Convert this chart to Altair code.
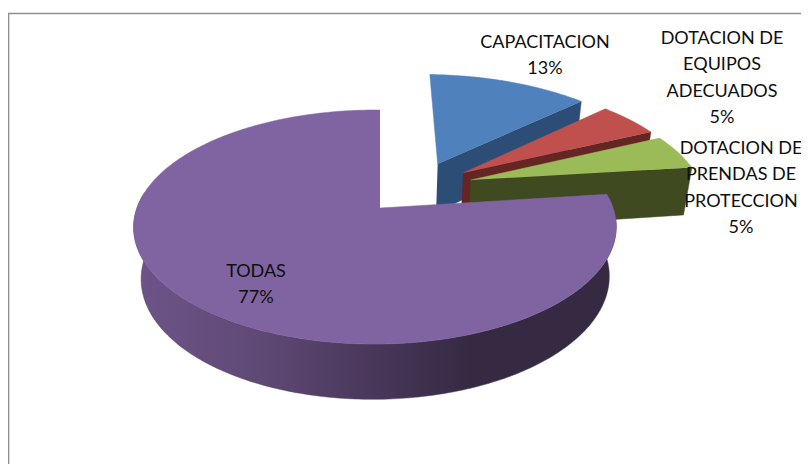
import numpy as np
import pandas as pd
import altair as alt

# ---- chart values
categories = ["CAPACITACION", "DOTACION DE EQUIPOS ADECUADOS", "DOTACION DE PRENDAS DE PROTECCION", "TODAS"]
percentages = [13, 5, 5, 77]
label_lines = [
    "CAPACITACION\n13%",
    "DOTACION DE\nEQUIPOS\nADECUADOS\n5%",
    "DOTACION DE\nPRENDAS DE\nPROTECCION\n5%",
    "TODAS\n77%",
]

# ---- styling / layout (separate from the values)
top_colors = ["#4F81BD", "#C0504D", "#9BBB59", "#8064A2"]
wall_colors = ["#2C4D75", "#652523", "#3F4A20", None]
explode_u = [0.26, 0.37, 0.40, 0.0]
explode_v = [0.415, 0.326, 0.258, 0.0]
radius = [1.04, 1.04, 1.04, 1.0]
label_x = [545, 722, 741, 256]
label_y = [43, 39, 149, 272]

W, H = 793, 456
X0, Y0 = 380.0, 208.0      # projected pie centre
F, G = 238.0, 113.9        # horizontal / vertical radii
A, B, C = 0.1625, 0.0207, 0.03   # perspective terms
DEPTH = 52.0


def project(u, v, z=0.0):
    d = 1 + A * v + B * u + C * z
    return X0 + F * u / d, Y0 + (-G * v + DEPTH * z) / d


def sector_angles(i):
    start = 90 - 360 * sum(percentages[:i]) / 100
    return start, start - 360 * percentages[i] / 100


x_scale = alt.Scale(domain=[8, 8 + W], range=[0, W], nice=False, zero=False)
y_scale = alt.Scale(domain=[8, 8 + H], range=[0, H], nice=False, zero=False)


def polygon(xs, ys, fill, stroke=None):
    df = pd.DataFrame({"x": xs, "y": ys, "k": np.arange(len(xs))})
    st = stroke if stroke is not None else fill
    return alt.Chart(df).mark_line(
        fill=fill, stroke=st, strokeWidth=0.5, interpolate="linear"
    ).encode(
        x=alt.X("x:Q", scale=x_scale, axis=None),
        y=alt.Y("y:Q", scale=y_scale, axis=None),
        order="k:Q",
    )


layers = []

# frame
frame = pd.DataFrame({"x": [8.5, 8.5, 830], "y": [480, 13.5, 13.5], "k": [0, 1, 2]})
layers.append(
    alt.Chart(frame).mark_line(stroke="#8E8E8E", strokeWidth=1.6).encode(
        x=alt.X("x:Q", scale=x_scale, axis=None),
        y=alt.Y("y:Q", scale=y_scale, axis=None),
        order="k:Q",
    )
)

# exploded small slices, back to front
for i in range(3):
    a0, a1 = sector_angles(i)
    t = np.radians(np.linspace(a0, a1, 40))
    u = explode_u[i] + radius[i] * np.cos(t)
    v = explode_v[i] + radius[i] * np.sin(t)
    cu, cv = explode_u[i], explode_v[i]
    ax, ay = project(cu, cv)
    bx, by = project(u[-1], v[-1])
    ax2, ay2 = project(cu, cv, 1)
    bx2, by2 = project(u[-1], v[-1], 1)
    layers.append(polygon([ax, bx, bx2, ax2], [ay, by, by2, ay2], wall_colors[i]))
    tx, ty = project(u, v)
    layers.append(polygon([ax, *tx], [ay, *ty], top_colors[i]))

# large slice
a0, a1 = sector_angles(3)
t_wall = np.radians(np.linspace(172, a0 + 360, 220))
wx, wy = project(np.cos(t_wall), np.sin(t_wall))
wx2, wy2 = project(np.cos(t_wall), np.sin(t_wall), 1)
gradient = alt.Gradient(
    gradient="linear",
    x1=0, x2=1, y1=0, y2=0,
    stops=[
        alt.GradientStop(offset=0.0, color="#6E5489"),
        alt.GradientStop(offset=0.25, color="#5F4A76"),
        alt.GradientStop(offset=0.5, color="#49375A"),
        alt.GradientStop(offset=0.7, color="#352A42"),
        alt.GradientStop(offset=1.0, color="#352A42"),
    ],
)
layers.append(polygon([*wx, *wx2[::-1]], [*wy, *wy2[::-1]], gradient, stroke="#4a3a5c"))

t_top = np.radians(np.linspace(a0, a1, 300))
tx, ty = project(np.cos(t_top), np.sin(t_top))
ax, ay = project(0.0, 0.0)
layers.append(polygon([ax, *tx], [ay, *ty], top_colors[3]))

# labels
labels = pd.DataFrame({
    "x": label_x, "y": label_y, "category": categories, "pct": percentages,
    "label": [s.split("\n") for s in label_lines],
})
layers.append(
    alt.Chart(labels).mark_text(
        font="Lato", fontSize=18, color="#0E0E0E", align="center",
        baseline="middle", lineHeight=26.4,
    ).encode(
        x=alt.X("x:Q", scale=x_scale, axis=None),
        y=alt.Y("y:Q", scale=y_scale, axis=None),
        text="label",
    )
)

chart = alt.layer(*layers).properties(
    width=W, height=H, padding=0, autosize=alt.AutoSizeParams(type="none"), background="white",
).configure_view(stroke=None)

chart.save("out.html", embed_options={"renderer": "svg", "actions": False})
